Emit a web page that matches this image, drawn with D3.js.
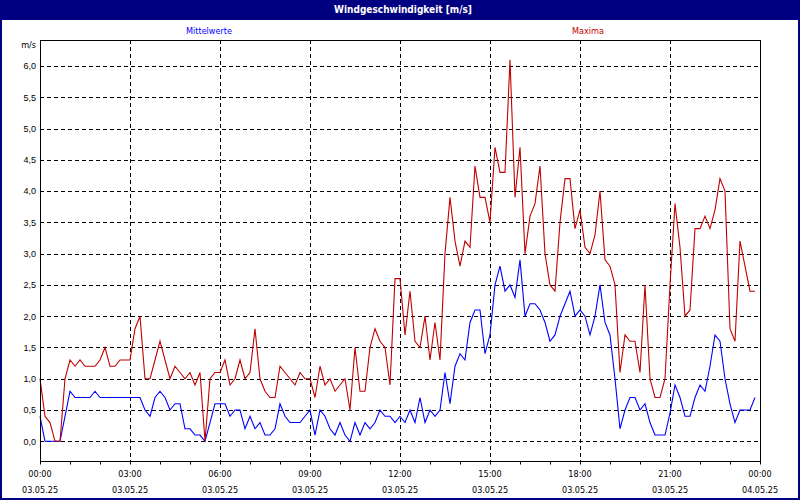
<!DOCTYPE html>
<html>
<head>
<meta charset="utf-8">
<script src="https://cdn.jsdelivr.net/npm/d3@7"></script>
<style>
  body { margin: 0; background: #fff; }
  svg { display: block; font-family: "DejaVu Sans Condensed", "DejaVu Sans", "Liberation Sans", sans-serif; }
</style>
</head>
<body>
<div id="chart"></div>
<script>
// 10-minute values, 03.05.25 00:00 .. 23:50
var maxima = [
  1.0, 0.4, 0.3, 0.0, 0.0, 1.0, 1.3, 1.2, 1.3, 1.2, 1.2, 1.2,
  1.3, 1.5, 1.2, 1.2, 1.3, 1.3, 1.3, 1.8, 2.0, 1.0, 1.0, 1.3,
  1.6, 1.3, 1.0, 1.2, 1.1, 1.0, 1.1, 0.9, 1.1, 0.0, 1.0, 1.1,
  1.1, 1.3, 0.9, 1.0, 1.3, 1.0, 1.1, 1.8, 1.0, 0.8, 0.7, 0.7,
  1.2, 1.1, 1.0, 0.9, 1.1, 1.0, 1.0, 0.7, 1.2, 0.9, 1.0, 0.8,
  0.9, 1.0, 0.5, 1.5, 0.8, 0.8, 1.5, 1.8, 1.6, 1.5, 0.9, 2.6,
  2.6, 1.7, 2.4, 1.6, 1.5, 2.0, 1.3, 1.9, 1.3, 3.0, 3.9, 3.2,
  2.8, 3.2, 3.1, 4.4, 3.9, 3.9, 3.5, 4.7, 4.3, 4.3, 6.1, 3.9,
  4.7, 3.0, 3.6, 3.8, 4.4, 3.0, 2.5, 2.4, 3.5, 4.2, 4.2, 3.4,
  3.7, 3.1, 3.0, 3.3, 4.0, 2.9, 2.8, 2.5, 1.1, 1.7, 1.6, 1.6,
  1.1, 2.5, 1.0, 0.7, 0.7, 1.0, 2.5, 3.8, 3.1, 2.0, 2.1, 3.4,
  3.4, 3.6, 3.4, 3.7, 4.2, 4.0, 1.8, 1.6, 3.2, 2.8, 2.4, 2.4
];
var mittelwerte = [
  0.4, 0.0, 0.0, 0.0, 0.0, 0.4, 0.8, 0.7, 0.7, 0.7, 0.7, 0.8,
  0.7, 0.7, 0.7, 0.7, 0.7, 0.7, 0.7, 0.7, 0.7, 0.5, 0.4, 0.7,
  0.8, 0.7, 0.5, 0.6, 0.6, 0.2, 0.2, 0.1, 0.1, 0.0, 0.3, 0.6,
  0.6, 0.6, 0.4, 0.5, 0.5, 0.2, 0.4, 0.2, 0.3, 0.1, 0.1, 0.2,
  0.6, 0.4, 0.3, 0.3, 0.3, 0.4, 0.5, 0.1, 0.5, 0.4, 0.2, 0.1,
  0.3, 0.1, 0.0, 0.3, 0.1, 0.3, 0.2, 0.3, 0.5, 0.4, 0.4, 0.3,
  0.4, 0.3, 0.5, 0.3, 0.7, 0.3, 0.5, 0.4, 0.5, 1.1, 0.6, 1.2,
  1.4, 1.3, 1.9, 2.1, 2.1, 1.4, 1.7, 2.5, 2.8, 2.4, 2.5, 2.3,
  2.9, 2.0, 2.2, 2.2, 2.1, 1.9, 1.6, 1.7, 2.0, 2.2, 2.4, 2.0,
  2.1, 2.0, 1.7, 2.0, 2.5, 1.9, 1.7, 1.0, 0.2, 0.5, 0.7, 0.7,
  0.5, 0.6, 0.3, 0.1, 0.1, 0.1, 0.45, 0.9, 0.7, 0.4, 0.4, 0.7,
  0.9, 0.8, 1.2, 1.7, 1.6, 1.0, 0.6, 0.3, 0.5, 0.5, 0.5, 0.7
];
var yTicks = [0, 0.5, 1, 1.5, 2, 2.5, 3, 3.5, 4, 4.5, 5, 5.5, 6];
var seriesNames = ["Mittelwerte", "Maxima"];
var seriesColors = ["#0000ff", "#c00000"];
var title = "Windgeschwindigkeit [m/s]";
var unit = "m/s";

var start = new Date(2025, 4, 3, 0, 0);
var end = new Date(2025, 4, 4, 0, 0);
var stepMinutes = 10;

var W = 800, H = 500;
var plot = {left: 40, right: 760, top: 40, bottom: 461};

var svg = d3.select("#chart").append("svg")
    .attr("width", W)
    .attr("height", H);

// window frame + title bar
svg.append("rect")
    .attr("x", 1).attr("y", 1).attr("width", W - 2).attr("height", H - 2)
    .attr("fill", "#fff").attr("stroke", "#000080").attr("stroke-width", 2);
svg.append("rect")
    .attr("x", 0).attr("y", 0).attr("width", W).attr("height", 20)
    .attr("fill", "#000080");
svg.append("text")
    .attr("x", 403).attr("y", 13)
    .attr("text-anchor", "middle")
    .attr("fill", "#fff")
    .attr("font-weight", "bold")
    .attr("font-size", 10)
    .text(title);

var x = d3.scaleTime()
    .domain([start, end])
    .range([plot.left, plot.right]);
var y = d3.scaleLinear()
    .domain([0, 6])
    .range([441.3, 66]);

// horizontal dashed grid
svg.append("g")
    .selectAll("line")
    .data(yTicks)
  .enter().append("line")
    .attr("x1", plot.left).attr("x2", plot.right)
    .attr("y1", function(d) { return Math.round(y(d)) + 0.5; })
    .attr("y2", function(d) { return Math.round(y(d)) + 0.5; })
    .attr("stroke", "#000")
    .attr("stroke-dasharray", "4,3");

// vertical dashed grid every 3 hours
var gridTimes = d3.timeHour.every(3).range(d3.timeHour.offset(start, 3), end);
svg.append("g")
    .selectAll("line")
    .data(gridTimes)
  .enter().append("line")
    .attr("x1", function(d) { return Math.round(x(d)) + 0.5; })
    .attr("x2", function(d) { return Math.round(x(d)) + 0.5; })
    .attr("y1", plot.top).attr("y2", plot.bottom)
    .attr("stroke", "#000")
    .attr("stroke-dasharray", "4,3");

// series
var times = maxima.map(function(d, i) { return d3.timeMinute.offset(start, i * stepMinutes); });
var line = d3.line()
    .x(function(d, i) { return x(times[i]); })
    .y(function(d) { return y(d); });

[mittelwerte, maxima].forEach(function(s, k) {
  svg.append("path")
      .datum(s)
      .attr("fill", "none")
      .attr("stroke", seriesColors[k])
      .attr("stroke-width", 1.1)
      .attr("d", line);
});

// plot frame
svg.append("rect")
    .attr("x", plot.left + 0.5).attr("y", plot.top + 0.5)
    .attr("width", plot.right - plot.left).attr("height", plot.bottom - plot.top)
    .attr("fill", "none").attr("stroke", "#000");

// y axis labels
var yAxis = svg.append("g")
    .attr("transform", "translate(" + plot.left + ",0)")
    .call(d3.axisLeft(y)
      .tickValues(yTicks)
      .tickSize(0)
      .tickPadding(4)
      .tickFormat(function(d) { return d3.format(".1f")(d).replace(".", ","); }));
yAxis.select(".domain").remove();
yAxis.selectAll("text").attr("font-size", 9).attr("fill", "#000").attr("font-family", null);

svg.append("text")
    .attr("x", 36).attr("y", 48)
    .attr("text-anchor", "end")
    .attr("font-size", 9)
    .text(unit);

// x axis: hourly ticks, labels every 3 hours
var xMinor = svg.append("g")
    .attr("transform", "translate(0," + (plot.bottom + 0.5) + ")")
    .call(d3.axisBottom(x).ticks(d3.timeHour.every(1)).tickSize(3).tickFormat(""));
xMinor.select(".domain").remove();

var fmtTime = d3.timeFormat("%H:%M"), fmtDate = d3.timeFormat("%d.%m.%y");
var labelTimes = d3.timeHour.every(3).range(start, d3.timeHour.offset(end, 1));
var xl = svg.append("g")
    .attr("font-size", 9)
    .attr("text-anchor", "middle")
    .selectAll("g")
    .data(labelTimes)
  .enter().append("g")
    .attr("transform", function(d) { return "translate(" + x(d) + ",0)"; });
xl.append("text").attr("y", 477).text(fmtTime);
xl.append("text").attr("y", 493).text(fmtDate);

// legend above the plot
svg.selectAll(".legend")
    .data(seriesNames)
  .enter().append("text")
    .attr("class", "legend")
    .attr("x", function(d, i) { return i === 0 ? 209 : 588; })
    .attr("y", 34)
    .attr("text-anchor", "middle")
    .attr("font-size", 9)
    .attr("fill", function(d, i) { return seriesColors[i]; })
    .text(function(d) { return d; });
</script>
</body>
</html>
